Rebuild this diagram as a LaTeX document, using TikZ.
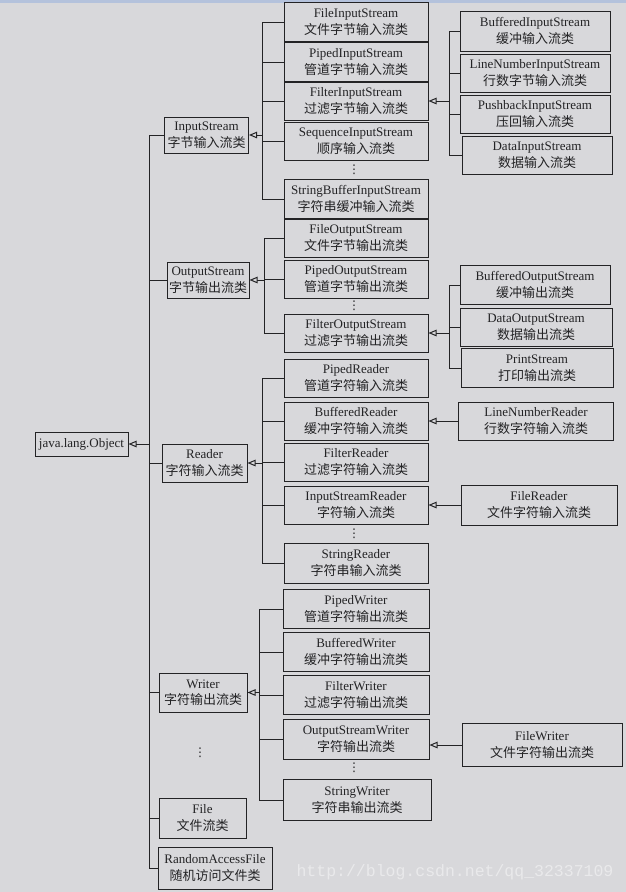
\documentclass[tikz,border=0pt]{standalone}
\usepackage{fontspec}
\setmainfont{Liberation Serif}
\newfontfamily\cjk{Noto Sans CJK SC}
\newfontfamily\wmfont{Liberation Mono}
\newfontfamily\dotsfont{DejaVu Sans}
\usetikzlibrary{arrows.meta}
\definecolor{paper}{HTML}{D8D8DB}
\definecolor{ink}{HTML}{232325}
\definecolor{topband}{HTML}{B4C2DC}
\newcommand\clsbox[7]{\node[cls,minimum width=#4pt,minimum height=#5pt] (#1) at (#2,#3) {#6\\{\cjk #7}};}
\begin{document}
\begin{tikzpicture}[x=1pt,y=-1pt,
  cls/.style={draw=ink,line width=1pt,fill=paper,text=ink,inner sep=0pt,align=center,font=\fontsize{13}{16.5}\selectfont},
  ln/.style={draw=ink,line width=1pt},
  inh/.style={draw=ink,line width=1pt,-{Triangle[open,length=8pt,width=6.5pt]}},
  dots/.style={text=ink,inner sep=0pt,font=\dotsfont\fontsize{12}{12}\selectfont}]
\fill[paper] (0,0) rectangle (626,892);
\fill[topband] (0,0) rectangle (626,2.5);
\useasboundingbox (0,0) rectangle (626,892);

% root
\node[cls,minimum width=93pt,minimum height=24pt] (Obj) at (81.5,444) {java.lang.Object};

% level 2
\clsbox{InS}{206.5}{135}{84}{36}{InputStream}{字节输入流类}
\clsbox{OutS}{208}{280}{82}{36}{OutputStream}{字节输出流类}
\clsbox{Rdr}{204.5}{463}{85}{38}{Reader}{字符输入流类}
\clsbox{Wtr}{203}{692.5}{88}{39}{Writer}{字符输出流类}
\node[dots] (d2) at (200,753) {⋮};
\clsbox{Fil}{202.5}{818}{87}{40}{File}{文件流类}
\clsbox{RAF}{215}{868}{114}{42}{RandomAccessFile}{随机访问文件类}

% level 3 : InputStream
\clsbox{FIS}{356}{22}{144}{39}{FileInputStream}{文件字节输入流类}
\clsbox{PIS}{356}{62}{144}{39}{PipedInputStream}{管道字节输入流类}
\clsbox{FltIS}{356}{101}{144}{38}{FilterInputStream}{过滤字节输入流类}
\clsbox{SeqIS}{356}{141}{144}{38}{SequenceInputStream}{顺序输入流类}
\node[dots] (d3a) at (354,170) {⋮};
\clsbox{SBIS}{356}{199}{144}{39}{StringBufferInputStream}{字符串缓冲输入流类}

% level 3 : OutputStream
\clsbox{FOS}{356}{238}{144}{38}{FileOutputStream}{文件字节输出流类}
\clsbox{POS}{356}{279}{144}{38}{PipedOutputStream}{管道字节输出流类}
\node[dots] (d3b) at (354,306) {⋮};
\clsbox{FltOS}{356}{333}{144}{38}{FilterOutputStream}{过滤字节输出流类}

% level 3 : Reader
\clsbox{PR}{356}{378}{144}{38}{PipedReader}{管道字符输入流类}
\clsbox{BR}{356}{421}{144}{38}{BufferedReader}{缓冲字符输入流类}
\clsbox{FR}{356}{462}{144}{38}{FilterReader}{过滤字符输入流类}
\clsbox{ISR}{356}{505}{144}{38}{InputStreamReader}{字符输入流类}
\node[dots] (d3c) at (354,534) {⋮};
\clsbox{SR}{356}{563}{144}{40}{StringReader}{字符串输入流类}

% level 3 : Writer
\clsbox{PW}{356}{609}{146}{39}{PipedWriter}{管道字符输出流类}
\clsbox{BW}{356}{652}{146}{39}{BufferedWriter}{缓冲字符输出流类}
\clsbox{FW}{356}{695}{146}{39}{FilterWriter}{过滤字符输出流类}
\clsbox{OSW}{356}{739}{146}{40}{OutputStreamWriter}{字符输出流类}
\node[dots] (d3d) at (354,768) {⋮};
\clsbox{SW}{357}{800}{148}{41}{StringWriter}{字符串输出流类}

% level 4
\clsbox{BIS}{535}{31}{150}{40}{BufferedInputStream}{缓冲输入流类}
\clsbox{LNIS}{535}{73}{150}{38}{LineNumberInputStream}{行数字节输入流类}
\clsbox{PbIS}{535}{114}{150}{38}{PushbackInputStream}{压回输入流类}
\clsbox{DIS}{537}{155}{150}{38}{DataInputStream}{数据输入流类}
\clsbox{BOS}{535}{285}{150}{39}{BufferedOutputStream}{缓冲输出流类}
\clsbox{DOS}{536}{327}{152}{38}{DataOutputStream}{数据输出流类}
\clsbox{PS}{537}{368}{152}{39}{PrintStream}{打印输出流类}
\clsbox{LNR}{536}{421}{155}{38}{LineNumberReader}{行数字符输入流类}
\clsbox{FRd}{539}{505}{156}{40}{FileReader}{文件字符输入流类}
\clsbox{FWt}{542}{745}{160}{43}{FileWriter}{文件字符输出流类}

% trunk coordinates
\coordinate (tM) at (149,0);
\coordinate (tI) at (262,0);
\coordinate (tO) at (264,0);
\coordinate (tR) at (262,0);
\coordinate (tW) at (259,0);
\coordinate (tFI) at (449,0);
\coordinate (tFO) at (449,0);

% main trunk
\foreach \c in {InS,OutS,Rdr,Wtr,Fil,RAF} \draw[ln] (\c.west) -- (\c.west -| tM);
\draw[ln] (InS.west -| tM) -- (RAF.west -| tM);
\draw[inh] (Obj.east -| tM) -- (Obj.east);

% InputStream group
\foreach \c in {FIS,PIS,FltIS,SeqIS,SBIS} \draw[ln] (\c.west) -- (\c.west -| tI);
\draw[ln] (FIS.west -| tI) -- (SBIS.west -| tI);
\draw[inh] (InS.east -| tI) -- (InS.east);

% OutputStream group
\foreach \c in {FOS,POS,FltOS} \draw[ln] (\c.west) -- (\c.west -| tO);
\draw[ln] (FOS.west -| tO) -- (FltOS.west -| tO);
\draw[inh] (OutS.east -| tO) -- (OutS.east);

% Reader group
\foreach \c in {PR,BR,FR,ISR,SR} \draw[ln] (\c.west) -- (\c.west -| tR);
\draw[ln] (PR.west -| tR) -- (SR.west -| tR);
\draw[inh] (Rdr.east -| tR) -- (Rdr.east);

% Writer group
\foreach \c in {PW,BW,FW,OSW,SW} \draw[ln] (\c.west) -- (\c.west -| tW);
\draw[ln] (PW.west -| tW) -- (SW.west -| tW);
\draw[inh] (Wtr.east -| tW) -- (Wtr.east);

% FilterInputStream group
\foreach \c in {BIS,LNIS,PbIS,DIS} \draw[ln] (\c.west) -- (\c.west -| tFI);
\draw[ln] (BIS.west -| tFI) -- (DIS.west -| tFI);
\draw[inh] (FltIS.east -| tFI) -- (FltIS.east);

% FilterOutputStream group
\foreach \c in {BOS,DOS,PS} \draw[ln] (\c.west) -- (\c.west -| tFO);
\draw[ln] (BOS.west -| tFO) -- (PS.west -| tFO);
\draw[inh] (FltOS.east -| tFO) -- (FltOS.east);

% single inheritances
\draw[inh] (LNR.west) -- (LNR.west -| BR.east);
\draw[inh] (FRd.west) -- (FRd.west -| ISR.east);
\draw[inh] (FWt.west) -- (FWt.west -| OSW.east);

% watermark
\node[text=white,opacity=0.45,inner sep=0pt,font=\wmfont\fontsize{16.5}{16.5}\selectfont] (wm) at (455,872) {http://blog.csdn.net/qq\_32337109};
\end{tikzpicture}
\end{document}
